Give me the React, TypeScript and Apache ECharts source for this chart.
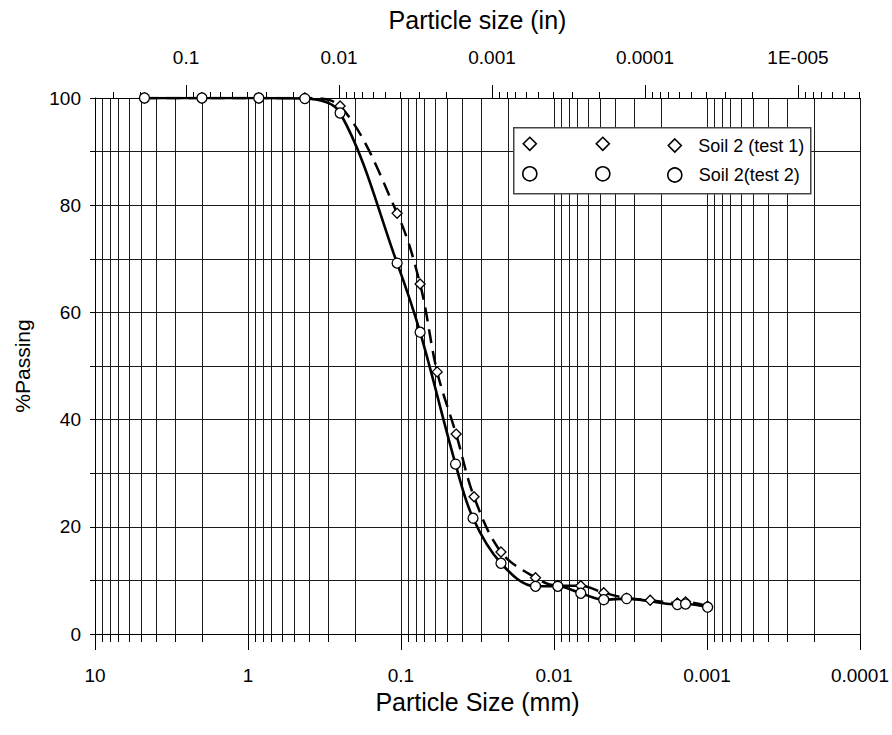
import React, { useEffect, useRef } from 'react';
import * as echarts from 'echarts';

const FONT = "'Liberation Sans', Arial, Helvetica, sans-serif";

// ---- Data (particle size in mm, % passing) ----
const test1Size = [4.75, 2.0, 0.85, 0.425, 0.25, 0.106, 0.075, 0.058, 0.0436, 0.0333, 0.0222, 0.0132, 0.00944, 0.00668, 0.00473, 0.00335, 0.00235, 0.00156, 0.00138, 0.00099];
const test1Passing = [100, 100, 100, 100, 98.5, 78.5, 65.3, 48.9, 37.3, 25.6, 15.3, 10.5, 9.0, 9.0, 7.7, 6.7, 6.3, 5.8, 6.0, 5.2];
const test2Size = [4.75, 2.0, 0.85, 0.425, 0.25, 0.106, 0.075, 0.0440, 0.0338, 0.0222, 0.0132, 0.00944, 0.00668, 0.00473, 0.00335, 0.00156, 0.00138, 0.00099];
const test2Passing = [100, 100, 100, 99.9, 97.2, 69.2, 56.3, 31.7, 21.6, 13.2, 8.9, 8.9, 7.6, 6.4, 6.6, 5.5, 5.6, 5.0];
const sieveCount = 7; // first points come from sieving, the rest from hydrometer

// ---- Axis ticks ----
const mmTicks = [10, 1, 0.1, 0.01, 0.001, 0.0001];
const mmTickLabels = ['10', '1', '0.1', '0.01', '0.001', '0.0001'];
const inTicks = [0.1, 0.01, 0.001, 0.0001, 0.00001];
const inTickLabels = ['0.1', '0.01', '0.001', '0.0001', '1E-005'];
const minorMultipliers = [2, 3, 4, 5, 6, 7, 8, 9];
const mmDecades = [1, 0.1, 0.01, 0.001, 0.0001];
const inDecades = [0.1, 0.01, 0.001, 0.0001, 0.00001, 0.000001];

// ---- Legend entries ----
const legendRow1 = ['T1 sieve', 'T1 hydrometer', 'Soil 2 (test 1)'];
const legendRow2 = ['T2 sieve', 'T2 hydrometer', 'Soil 2(test 2)'];

const MM_MIN = 0.0001;
const MM_MAX = 10;
const IN_PER_MM = 1 / 25.4;

const mmMinor: number[] = [];
mmDecades.forEach((d) => minorMultipliers.forEach((m) => mmMinor.push(+(d * m).toPrecision(6))));
const mmAll = [...mmTicks, ...mmMinor];

const inMinor: number[] = [];
inDecades.forEach((d) => minorMultipliers.forEach((m) => {
  const v = +(d * m).toPrecision(6);
  if (v >= MM_MIN * IN_PER_MM && v <= MM_MAX * IN_PER_MM) inMinor.push(v);
}));

const closestLabel = (v: number, ticks: number[], labels: string[]) => {
  for (let i = 0; i < ticks.length; i++) {
    if (Math.abs(Math.log10(v) - Math.log10(ticks[i])) < 1e-6) return labels[i];
  }
  return '';
};

const pairs = (xs: number[], ys: number[]) => xs.map((x, i) => [x, ys[i]]);

export default function App() {
  const ref = useRef<HTMLDivElement>(null);

  useEffect(() => {
    if (!ref.current) return;
    const chart = echarts.init(ref.current, undefined, { renderer: 'svg' });

    const t1 = pairs(test1Size, test1Passing);
    const t2 = pairs(test2Size, test2Passing);

    const markerStyle = { color: '#fff', borderColor: '#000', borderWidth: 1.3, opacity: 1 };
    const gridLine = { color: '#1a1a1a', width: 1 };

    const iconCenters = [529, 602, 674];
    const rowCenters = [143, 173];
    const makeLegend = (name: string, icon: string, col: number, row: number, size: number) => ({
      left: iconCenters[col] - size / 2,
      top: rowCenters[row] - size / 2,
      padding: 0,
      orient: 'horizontal',
      itemWidth: size,
      itemHeight: size,
      selectedMode: false,
      data: [{ name, icon }],
      itemStyle: { color: '#fff', borderColor: '#000', borderWidth: 1.6, opacity: 1 },
      textStyle: {
        fontSize: 18, color: '#000', fontFamily: FONT, lineHeight: size,
        padding: [0, 0, 0, 12],
      },
      formatter: (n: string) => (col === 2 ? n : ''),
      z: 10,
    });

    const legends = [
      ...legendRow1.map((n, i) => makeLegend(n, 'diamond', i, 0, 13)),
      ...legendRow2.map((n, i) => makeLegend(n, 'circle', i, 1, 14)),
    ];

    const option: any = {
      animation: false,
      backgroundColor: '#fff',
      textStyle: { fontFamily: FONT, color: '#000' },
      grid: { left: 95, top: 98, width: 767, height: 536, containLabel: false },
      xAxis: [
        {
          type: 'log', logBase: 10, min: MM_MIN, max: MM_MAX, inverse: true, position: 'bottom',
          name: 'Particle Size (mm)', nameLocation: 'middle', nameGap: 51,
          nameTextStyle: { fontSize: 25, color: '#000', fontFamily: FONT },
          axisLine: { show: true, onZero: false, lineStyle: { color: '#000', width: 1 } },
          axisTick: { show: true, length: 16, customValues: mmTicks, lineStyle: { color: '#000', width: 1 } },
          axisLabel: {
            show: true, customValues: mmTicks, margin: 32, fontSize: 19, color: '#000', fontFamily: FONT,
            formatter: (v: number) => closestLabel(v, mmTicks, mmTickLabels),
          },
          splitLine: { show: false },
        },
        {
          type: 'log', logBase: 10, min: MM_MIN, max: MM_MAX, inverse: true, position: 'bottom',
          axisLine: { show: false, onZero: false },
          axisTick: { show: true, length: 8, customValues: mmAll, lineStyle: { color: '#000', width: 1 } },
          axisLabel: { show: false },
          splitLine: { show: true, lineStyle: gridLine },
        },
        {
          type: 'log', logBase: 10, min: MM_MIN * IN_PER_MM, max: MM_MAX * IN_PER_MM, inverse: true, position: 'top',
          name: 'Particle size (in)', nameLocation: 'middle', nameGap: 66,
          nameTextStyle: { fontSize: 25, color: '#000', fontFamily: FONT },
          axisLine: { show: true, onZero: false, lineStyle: { color: '#000', width: 1 } },
          axisTick: { show: true, length: 13, customValues: inTicks, lineStyle: { color: '#000', width: 1 } },
          axisLabel: {
            show: true, customValues: inTicks, margin: 31, fontSize: 19, color: '#000', fontFamily: FONT,
            formatter: (v: number) => closestLabel(v, inTicks, inTickLabels),
          },
          splitLine: { show: false },
        },
        {
          type: 'log', logBase: 10, min: MM_MIN * IN_PER_MM, max: MM_MAX * IN_PER_MM, inverse: true, position: 'top',
          axisLine: { show: false, onZero: false },
          axisTick: { show: true, length: 6, customValues: inMinor, lineStyle: { color: '#000', width: 1 } },
          axisLabel: { show: false },
          splitLine: { show: false },
        },
      ],
      yAxis: {
        type: 'value', min: 0, max: 100, interval: 10,
        name: '%Passing', nameLocation: 'middle', nameGap: 62,
        nameTextStyle: { fontSize: 21, color: '#000', fontFamily: FONT },
        axisLine: { show: true, onZero: false, lineStyle: { color: '#000', width: 1 } },
        axisTick: { show: true, length: 5, lineStyle: { color: '#000' } },
        axisLabel: {
          margin: 14, fontSize: 19, color: '#000', fontFamily: FONT,
          formatter: (v: number) => (v % 20 === 0 ? String(v) : ''),
        },
        splitLine: { show: true, lineStyle: gridLine },
      },
      legend: legends,
      graphic: [
        {
          type: 'rect', left: 513, top: 127, z: 8, silent: true,
          shape: { width: 297, height: 66 },
          style: { fill: '#fff', stroke: '#444', lineWidth: 1.5 },
        },
      ],
      series: [
        {
          name: 'Soil 2 (test 1)', type: 'line', xAxisIndex: 0, data: t1, smooth: 0.35,
          showSymbol: false, symbol: 'none', z: 3,
          lineStyle: { color: '#000', width: 2.5, type: [14, 8] }, itemStyle: { color: '#000' },
        },
        {
          name: 'Soil 2(test 2)', type: 'line', xAxisIndex: 0, data: t2, smooth: 0.35,
          showSymbol: false, symbol: 'none', z: 3,
          lineStyle: { color: '#000', width: 2.6, type: 'solid' }, itemStyle: { color: '#000' },
        },
        {
          name: 'T1 sieve', type: 'scatter', xAxisIndex: 0, data: t1.slice(0, sieveCount),
          symbol: 'diamond', symbolSize: 10, itemStyle: markerStyle, z: 5,
        },
        {
          name: 'T1 hydrometer', type: 'scatter', xAxisIndex: 0, data: t1.slice(sieveCount),
          symbol: 'diamond', symbolSize: 10, itemStyle: markerStyle, z: 5,
        },
        {
          name: 'T2 sieve', type: 'scatter', xAxisIndex: 0, data: t2.slice(0, sieveCount),
          symbol: 'circle', symbolSize: 10, itemStyle: markerStyle, z: 5,
        },
        {
          name: 'T2 hydrometer', type: 'scatter', xAxisIndex: 0, data: t2.slice(sieveCount),
          symbol: 'circle', symbolSize: 10, itemStyle: markerStyle, z: 5,
        },
      ],
    };

    chart.setOption(option);
    return () => chart.dispose();
  }, []);

  return (
    <div
      ref={ref}
      style={{ position: 'fixed', left: 0, top: 0, width: 892, height: 735, background: '#fff' }}
    />
  );
}
